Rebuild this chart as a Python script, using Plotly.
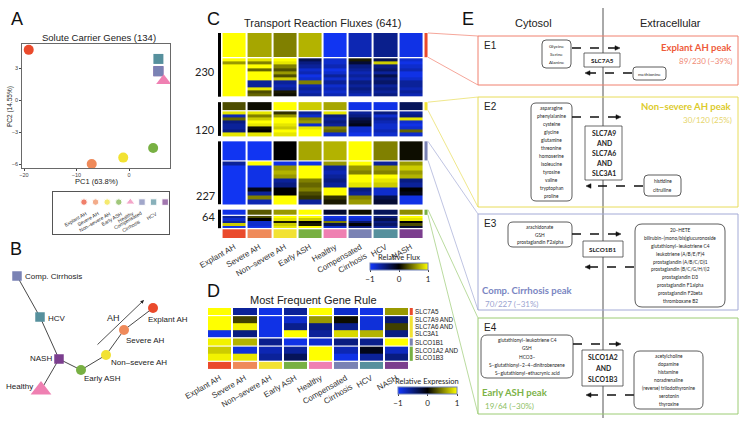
import numpy as np
import plotly.graph_objects as go

W, H = 744, 425
SANS = "Liberation Sans, Arial, sans-serif"
CAL = "Lato, Carlito, sans-serif"

# ---------------- data ----------------
groups = ["Explant AH", "Severe AH", "Non–severe AH", "Early ASH", "Healthy",
          "Compensated Cirrhosis", "HCV", "NASH"]
group_ticks = ["Explant AH", "Severe AH", "Non–severe AH", "Early ASH", "Healthy",
               "Compensated<br>Cirrhosis", "HCV", "NASH"]
group_colors = ["#ea4a2c", "#ef8a5a", "#f2e233", "#78b043", "#ef80b2",
                "#7a82b4", "#56909d", "#7b3e8e"]
group_symbols = ["circle", "circle", "circle", "circle", "triangle-up",
                 "square", "square", "square"]

# A: PCA of solute carrier genes
pca_pc1 = [-19.1, -7.1, -1.1, 4.6, 6.6, 5.6, 5.6, 5.6]
pca_pc2 = [4.7, -6.0, -5.4, -4.5, 1.8, 2.7, 3.85, 2.7]
pca_xticks = [-20, -10, 0]
pca_yticks = [3, 0, -3, -6]

# B: tree layout
tree_labels = ["Comp. Cirrhosis", "HCV", "NASH", "Healthy", "Early ASH",
               "Non–severe AH", "Severe AH", "Explant AH"]
tree_group = [5, 6, 7, 4, 3, 2, 1, 0]
tree_x = [17, 40, 59, 41, 81, 106, 124, 153]
tree_y = [276, 317, 359, 390, 370, 355, 330, 308]
tree_edges = [(0, 1), (1, 2), (2, 3), (2, 4), (4, 5), (5, 6), (6, 7)]
tree_label_dx = [7, 7, -6, -7, 2, 4, 1, -6]
tree_label_dy = [0, 1, -1, -4, 8, 7, 10, 11]

# C: transport reaction flux clusters
flux_cluster_sizes = [230, 120, 227, 64]
flux_peak_sizes = [89, 30, 70, 19]
flux_peak_profiles = [
    [1.0, 0.65, 0.5, 0.7, -0.95, -0.7, -0.55, -0.9],
    [0.3, 0.05, 1.0, 0.8, 0.65, -0.9, -0.9, -0.35],
    [-0.95, -0.95, 0.0, 0.65, 0.7, 1.0, 0.5, 0.05],
    [-0.9, 0.35, 0.6, 1.0, -0.2, 0.05, -0.35, 0.55],
]
flux_rest_230 = [
    [1.0, 0.9, 1.0, -0.3, -0.8, 0.1, -0.3, -0.8],
    [0.6, 0.5, 0.9, -0.5, -0.8, -0.2, 0.8, -0.9],
    [1.0, 1.0, 0.5, -0.6, -0.7, -0.5, -0.5, -0.8],
    [1.0, 0.4, 0.3, -0.8, -0.9, -0.6, -0.4, -0.7],
    [1.0, 1.0, 0.6, -0.7, -0.8, -0.7, -0.6, -0.9],
    [1.0, 1.0, 0.3, -0.9, -0.6, -0.6, -0.3, -0.9],
    [1.0, 1.0, 0.8, -0.8, -0.8, -0.7, -0.5, -0.8],
    [1.0, -0.6, -0.6, 0.5, -0.6, -0.5, -0.4, -0.6],
    [1.0, -0.6, -0.7, -0.7, -0.8, -0.6, -0.6, -0.6],
    [1.0, 0.9, -0.6, -0.6, -0.7, -0.5, -0.5, -0.7],
    [1.0, 0.3, 0.1, -0.7, -0.8, -0.6, -0.6, -0.6],
    [1.0, 0.4, 0.05, -0.6, -0.7, -0.7, -0.5, -0.7],
]
flux_rest_120 = [
    [0.9, 0.9, 0.2, -0.6, 0.9, -0.6, -0.5, -0.6],
    [-0.7, 0.5, 0.6, -0.8, -0.5, -0.5, -0.8, -0.5],
    [0.4, 0.8, 1.0, 0.5, -0.6, -0.3, -0.6, 0.9],
    [-0.5, 1.0, 1.0, 0.6, -0.5, -0.2, -0.7, -0.8],
    [-0.6, 0.9, 0.9, -0.8, -0.6, -0.1, -0.8, -0.9],
    [-0.6, 0.05, 0.8, 0.9, 0.5, -0.8, -0.8, -0.8],
    [-0.5, 0.0, 1.0, 1.0, 0.4, -0.8, -0.7, 0.4],
    [0.9, 0.9, 0.9, 1.0, -0.8, -0.9, -0.8, -0.8],
]
flux_rest_227 = [
    [-0.6, 1.0, -0.9, -0.9, 0.6, 1.0, -0.6, 0.6],
    [-0.95, -0.9, 0.6, 1.0, -0.6, 0.6, 0.6, 0.8],
    [-0.95, -0.9, 0.7, 1.0, -0.7, 0.5, 0.5, 0.6],
    [-0.95, -0.9, 0.6, 1.0, -0.6, 1.0, 1.0, 0.7],
    [-0.95, -0.9, -0.6, 0.5, -0.5, 1.0, 0.9, -0.5],
    [-0.95, -0.9, -0.5, 0.4, -0.6, 0.9, 0.8, -0.6],
    [-0.95, -0.1, 0.0, 0.5, 1.0, -0.5, -0.8, 0.0],
    [-0.95, -0.6, 0.0, 0.3, 1.0, -0.6, -0.8, -0.1],
    [-0.95, 0.5, 1.0, 0.2, 0.2, 0.5, -0.3, -0.9],
    [-0.95, -0.7, 1.0, -0.6, 0.1, 0.6, -0.2, -0.9],
]
flux_rest_64 = [
    [-0.6, 0.3, 1.0, 1.0, -0.9, -0.9, -0.5, 1.0],
    [-0.8, 0.0, 0.9, 0.8, -0.8, -0.8, -0.3, 0.9],
    [-0.6, -0.8, 0.1, 0.0, 0.5, -0.4, -0.5, 0.0],
    [0.8, -0.8, 0.8, 0.1, -0.3, 0.0, -0.4, 0.3],
    [-0.9, -0.9, 0.9, 1.0, -0.8, -0.5, -0.6, -0.2],
]
flux_rest = [flux_rest_230, flux_rest_120, flux_rest_227, flux_rest_64]
flux_cluster_colors = [group_colors[0], group_colors[2], group_colors[5], group_colors[3]]

# D: most frequent gene rule
gene_labels = ["SLC7A5", "SLC7A9 AND", "SLC7A6 AND", "SLC3A1", "SLCO1B1",
               "SLCO1A2 AND", "SLCO1B3"]
gene_expr = [
    [1.0, -0.6, -0.9, -0.6, 1.0, -0.8, -0.9, 0.6],
    [1.0, 0.25, -0.9, -0.8, 0.6, 0.05, -0.85, -0.45],
    [1.0, 0.95, -0.9, -0.55, -0.5, -0.55, -0.85, 0.25],
    [-0.9, -0.5, -0.9, 1.0, -0.6, 0.85, 0.7, -0.5],
    [0.95, 0.7, -0.55, -0.9, -0.8, -0.5, -0.55, 1.0],
    [0.8, -0.85, -0.7, -0.6, 1.0, -0.7, -0.1, -0.75],
    [0.95, 0.9, -0.6, -0.35, 1.0, -0.9, -0.6, -0.5],
]
gene_group_sizes = [1, 3, 1, 2]

flux_scale = [[0, "#1238ff"], [0.5, "#000000"], [1, "#ffff00"]]

# ---------------- helpers ----------------
def dom_x(p0, p1):
    return [p0 / W, p1 / W]

def dom_y(p0, p1):
    return [1 - p1 / H, 1 - p0 / H]

shapes, annotations = [], []
OV = dict(xref="x6", yref="y6")

def txt(x, y, s, size=8, color="#222", xa="center", ya="middle", fam=SANS, angle=0, ref=OV):
    annotations.append(dict(x=x, y=y, text=s, showarrow=False, xanchor=xa, yanchor=ya,
                            font=dict(size=size, color=color, family=fam), textangle=angle,
                            borderpad=0, **ref))

def rect(x0, y0, x1, y1, color, width=1, fill="rgba(0,0,0,0)", ref=OV):
    shapes.append(dict(type="rect", x0=x0, y0=y0, x1=x1, y1=y1, layer="above",
                       line=dict(color=color, width=width), fillcolor=fill, **ref))

def rrect(x0, y0, x1, y1, r=4, color="#333", width=0.8, fill="white"):
    p = (f"M{x0+r},{y0} L{x1-r},{y0} Q{x1},{y0} {x1},{y0+r} L{x1},{y1-r} "
         f"Q{x1},{y1} {x1-r},{y1} L{x0+r},{y1} Q{x0},{y1} {x0},{y1-r} "
         f"L{x0},{y0+r} Q{x0},{y0} {x0+r},{y0} Z")
    shapes.append(dict(type="path", path=p, layer="above", line=dict(color=color, width=width),
                       fillcolor=fill, **OV))

def seg(x0, y0, x1, y1, color, width=0.8, dash="solid"):
    shapes.append(dict(type="line", x0=x0, y0=y0, x1=x1, y1=y1, layer="above",
                       line=dict(color=color, width=width, dash=dash), **OV))

def darrow(x0, x1, y):
    s = 1 if x1 > x0 else -1
    seg(x0, y, x1 - s * 4, y, "#111", 1.4, "dash")
    p = f"M{x1},{y} L{x1 - s*5},{y - 2.3} L{x1 - s*5},{y + 2.3} Z"
    shapes.append(dict(type="path", path=p, layer="above", line=dict(color="#111", width=0.5),
                       fillcolor="#111", **OV))

def lines_in(cx, y0, y1, lines, size=5.3, color="#222", bold=False):
    n = len(lines)
    step = (y1 - y0) / n
    for i, l in enumerate(lines):
        s = f"<b>{l}</b>" if bold else l
        txt(cx, y0 + step * (i + 0.5), s, size, color, fam=CAL)

fig = go.Figure()

# ---------------- A: PCA ----------------
for i in [7, 5, 6, 4, 0, 1, 2, 3]:
    sz = 13 if group_symbols[i] == "triangle-up" else 10
    fig.add_trace(go.Scatter(x=[pca_pc1[i]], y=[pca_pc2[i]], mode="markers",
                             marker=dict(symbol=group_symbols[i], size=sz, color=group_colors[i],
                                         line=dict(width=0)),
                             xaxis="x", yaxis="y", showlegend=False, hoverinfo="skip"))

# A legend box
leg_x = list(range(8))
fig.add_trace(go.Scatter(x=leg_x, y=[0.76] * 8, mode="markers",
                         marker=dict(symbol=group_symbols,
                                     size=[8 if s == "triangle-up" else 6.5 for s in group_symbols],
                                     color=group_colors),
                         xaxis="x2", yaxis="y2", showlegend=False, hoverinfo="skip"))
for i, g in enumerate(group_ticks):
    txt(i + 0.45, 0.6, g, 5, "#333", xa="right", ya="top", angle=-30,
        ref=dict(xref="x2", yref="y2"))

# ---------------- B: tree ----------------
for a, b in tree_edges:
    fig.add_trace(go.Scatter(x=[tree_x[a], tree_x[b]], y=[tree_y[a], tree_y[b]], mode="lines",
                             line=dict(color="#333", width=0.9), xaxis="x3", yaxis="y3",
                             showlegend=False, hoverinfo="skip"))
for k in range(len(tree_x)):
    g = tree_group[k]
    sym = group_symbols[g]
    sz = 18 if sym == "triangle-up" else (9.5 if sym == "square" else 10)
    fig.add_trace(go.Scatter(x=[tree_x[k]], y=[tree_y[k]], mode="markers",
                             marker=dict(symbol=sym, size=sz, color=group_colors[g]),
                             xaxis="x3", yaxis="y3", showlegend=False, hoverinfo="skip"))
    xa = "right" if tree_label_dx[k] < 0 and k in (2, 3) else "left"
    txt(tree_x[k] + tree_label_dx[k], tree_y[k] + tree_label_dy[k], tree_labels[k], 8, "#222",
        xa=xa, ref=dict(xref="x3", yref="y3"))
annotations.append(dict(x=144, y=300, ax=96, ay=346, xref="x3", yref="y3", axref="x3", ayref="y3",
                        showarrow=True, arrowhead=2, arrowsize=0.9, arrowwidth=0.8,
                        arrowcolor="#222", text=""))
txt(113, 318, "AH", 9, "#222", ref=dict(xref="x3", yref="y3"))

# ---------------- C: flux heatmap ----------------
GAP_IN, GAP_CL, CB_GAP, CB_H = 4, 20, 4, 32
ypos = 0
cluster_spans = []
for c in range(4):
    start = ypos
    pk = flux_peak_sizes[c]
    fig.add_trace(go.Heatmap(z=[flux_peak_profiles[c]], x=list(range(8)), y=[ypos, ypos + pk],
                             colorscale=flux_scale, zmin=-1, zmax=1, xgap=2,
                             showscale=False, xaxis="x4", yaxis="y4", hoverinfo="skip"))
    peak_span = (ypos, ypos + pk)
    ypos += pk + GAP_IN
    rest = flux_rest[c]
    nrest = flux_cluster_sizes[c] - pk
    edges = list(np.linspace(ypos, ypos + nrest, len(rest) + 1))
    fig.add_trace(go.Heatmap(z=rest, x=list(range(8)), y=edges,
                             colorscale=flux_scale, zmin=-1, zmax=1, xgap=2,
                             showscale=(c == 0), xaxis="x4", yaxis="y4", hoverinfo="skip",
                             colorbar=dict(orientation="h", x=399 / W, xanchor="center",
                                           y=1 - 263 / H, yanchor="top", thickness=7,
                                           len=58, lenmode="pixels", xpad=0, ypad=0,
                                           tickvals=[-1, 0, 1], ticktext=["−1", "0", "1"],
                                           ticks="outside", ticklen=2,
                                           tickfont=dict(size=8, family=CAL, color="#222"),
                                           outlinewidth=1, outlinecolor="#6f80b8")))
    ypos += nrest
    cluster_spans.append((start, ypos, peak_span))
    ypos += GAP_CL if c < 3 else CB_GAP
# group colour row
disc = []
for k, col in enumerate(group_colors):
    disc += [[k / 8, col], [(k + 1) / 8, col]]
fig.add_trace(go.Heatmap(z=[list(range(8))], x=list(range(8)), y=[ypos, ypos + CB_H],
                         colorscale=disc, zmin=-0.5, zmax=7.5, xgap=2, showscale=False,
                         xaxis="x4", yaxis="y4", hoverinfo="skip"))
C_YMAX = ypos + CB_H
C_X0, C_X1 = -0.639, 7.718
CREF = dict(xref="x4", yref="y4")
for c, (s, e, (p0, p1)) in enumerate(cluster_spans):
    rect(-0.639, s, -0.52, e, "black", 0, "black", ref=CREF)
    rect(7.54, p0, 7.66, p1, flux_cluster_colors[c], 0, flux_cluster_colors[c], ref=CREF)

def c_py(y):
    return 33 + y * (238 - 33) / C_YMAX

# cluster count labels
for c, ypx in enumerate([71, 129, 195, 216]):
    txt(216, ypx, str(flux_cluster_sizes[c]), 11, "#222", xa="right", fam=CAL)

# ---------------- D: gene heatmap ----------------
GG = 0.15
yd = 0
row_i = 0
gene_group_colors = [group_colors[0], group_colors[2], group_colors[5], group_colors[3]]
DREF = dict(xref="x5", yref="y5")
for gi, n in enumerate(gene_group_sizes):
    zz = gene_expr[row_i:row_i + n]
    edges = list(np.linspace(yd, yd + n, n + 1))
    fig.add_trace(go.Heatmap(z=zz, x=list(range(8)), y=edges, colorscale=flux_scale,
                             zmin=-1, zmax=1, xgap=2, showscale=(gi == 0),
                             xaxis="x5", yaxis="y5", hoverinfo="skip",
                             colorbar=dict(orientation="h", x=427.5 / W, xanchor="center",
                                           y=1 - 387 / H, yanchor="top", thickness=7,
                                           len=59, lenmode="pixels", xpad=0, ypad=0,
                                           tickvals=[-1, 0, 1], ticktext=["−1", "0", "1"],
                                           ticks="outside", ticklen=2,
                                           tickfont=dict(size=8, family=CAL, color="#222"),
                                           outlinewidth=1, outlinecolor="#6f80b8")))
    rect(7.53, yd, 7.65, yd + n, gene_group_colors[gi], 0, gene_group_colors[gi], ref=DREF)
    for k in range(n):
        txt(7.685, yd + k + 0.5, gene_labels[row_i + k], 6.3, "#222", xa="left", ref=DREF)
    yd += n + GG
    row_i += n
fig.add_trace(go.Heatmap(z=[list(range(8))], x=list(range(8)), y=[yd, yd + 1.0],
                         colorscale=disc, zmin=-0.5, zmax=7.5, xgap=2, showscale=False,
                         xaxis="x5", yaxis="y5", hoverinfo="skip"))
D_YMAX = yd + 1.0

# ---------------- overlay: titles, panel letters, E ----------------
fig.add_trace(go.Scatter(x=[0], y=[0], mode="markers", marker=dict(opacity=0),
                         xaxis="x6", yaxis="y6", showlegend=False, hoverinfo="skip"))

for L, x, y in [("A", 17, 19), ("B", 16, 249), ("C", 213, 19), ("D", 213, 291), ("E", 468, 19)]:
    txt(x, y, L, 18, "#111")
txt(99, 37, "Solute Carrier Genes (134)", 9.5, "#222")
txt(96, 181, "PC1 (63.8%)", 7.5, "#222")
txt(10, 107, "PC2 (14.55%)", 6.5, "#222", angle=-90)
txt(322, 23, "Transport Reaction Fluxes (641)", 11, "#222")
txt(313, 300, "Most Frequent Gene Rule", 11, "#222")
txt(399, 257, "Relative Flux", 7.5, "#222", fam=CAL)
txt(427, 381, "Relative Expression", 7.5, "#222", fam=CAL)

# connectors from C peak bars to E boxes
E_boxes = [(36, 85), (97, 207), (214, 310), (318, 414)]
E_line = ["#f0806e", "#e8dc5a", "#a3aad6", "#9ccc75"]
for c, (s, e, (p0, p1)) in enumerate(cluster_spans):
    seg(428, c_py(p0), 478, E_boxes[c][0], E_line[c], 0.7)
    seg(428, c_py(p1), 478, E_boxes[c][1], E_line[c], 0.7)

# E headers and divider
txt(533, 23, "Cytosol", 11, "#222")
txt(670, 23, "Extracellular", 11, "#222")
seg(603, 8, 603, 418, "#555", 1)
for k, (y0, y1) in enumerate(E_boxes):
    rect(478, y0, 738, y1, E_line[k], 1)
for k, (y0, y1) in enumerate(E_boxes):
    txt(483, y0 + 9, f"E{k+1}", 10, "#222", xa="left")

# E1
txt(733, 47, "<b>Explant AH peak</b>", 9.5, "#ee5a3a", xa="right", fam=CAL)
txt(733, 61, "89/230 (~39%)", 8, "#f08a75", xa="right", fam=CAL)
rrect(542, 40, 571, 68, 4)
lines_in(556.5, 42, 66, ["Glycine", "Serine", "Alanine"], 4.6)
darrow(572, 620, 48)
rect(584, 53, 620, 67, "#444", 0.8, "white")
lines_in(602, 53, 67, ["SLC7A5"], 6.3, bold=True)
darrow(632, 585, 73)
rrect(633, 67, 666, 80, 3)
lines_in(649.5, 67, 80, ["methionine"], 4.6)

# E2
txt(733, 106, "<b>Non–severe AH peak</b>", 9.5, "#dccb2b", xa="right", fam=CAL)
txt(733, 120, "30/120 (25%)", 8, "#e6d56a", xa="right", fam=CAL)
rrect(531, 103, 572, 201, 5)
lines_in(551.5, 104, 200, ["asparagine", "phenylalanine", "cysteine", "glycine", "glutamine",
                            "threonine", "homoserine", "isoleucine", "tyrosine", "valine",
                            "tryptophan", "proline"], 4.8)
darrow(572, 621, 117)
rect(585, 126, 622, 180, "#444", 0.8, "white")
lines_in(603.5, 128, 178, ["SLC7A9", "AND", "SLC7A6", "AND", "SLC3A1"], 6.8, bold=True)
darrow(643, 586, 186)
rrect(644, 175, 681, 196, 4)
lines_in(662.5, 177, 194, ["histidine", "citrulline"], 4.8)

# E3
txt(481, 290, "<b>Comp. Cirrhosis peak</b>", 9.5, "#7a86c2", xa="left", fam=CAL)
txt(484, 304, "70/227 (~31%)", 8, "#9aa3d0", xa="left", fam=CAL)
rrect(508, 222, 572, 247, 5)
lines_in(540, 223, 246, ["arachidonate", "GSH", "prostaglandin F2alpha"], 4.8)
darrow(572, 621, 234)
rect(583, 241, 623, 257, "#444", 0.8, "white")
lines_in(603, 241, 257, ["SLCO1B1"], 6.3, bold=True)
darrow(634, 585, 267)
rrect(635, 224, 725, 307, 7)
lines_in(680, 226, 305, ["20–HETE", "bilirubin–(mono/bis)glucuronoside",
                         "glutathionyl–leukotriene C4", "leukotriene (A/B/E/F)4",
                         "prostaglandin (A/B/C/D)1", "prostaglandin (B/C/G/H/I)2",
                         "prostaglandin D3", "prostaglandin F1alpha",
                         "prostaglandin F2beta", "thromboxane B2"], 4.8)

# E4
txt(481, 392, "<b>Early ASH peak</b>", 9.5, "#7bb247", xa="left", fam=CAL)
txt(484, 406, "19/64 (~30%)", 8, "#8cc05f", xa="left", fam=CAL)
rrect(481, 335, 573, 378, 6)
lines_in(527, 336, 377, ["glutathionyl–leukotriene C4", "GSH", "HCO3–",
                         "S–glutathionyl–2–4–dinitrobenzene",
                         "S–glutathionyl–ethacrynic acid"], 4.8)
darrow(573, 621, 344)
rect(582, 350, 623, 386, "#444", 0.8, "white")
lines_in(602.5, 352, 384, ["SLCO1A2", "AND", "SLCO1B3"], 6.8, bold=True)
darrow(634, 586, 395)
rrect(634, 351, 703, 409, 6)
lines_in(668.5, 352, 408, ["acetylcholine", "dopamine", "histamine", "noradrenaline",
                           "(reverse) triiodothyronine", "serotonin", "thyroxine"], 4.8)

# ---------------- layout ----------------
hid = dict(visible=False, showgrid=False, zeroline=False, fixedrange=True)
fig.update_layout(
    width=W, height=H, margin=dict(l=0, r=0, t=0, b=0, autoexpand=False),
    paper_bgcolor="white", plot_bgcolor="rgba(0,0,0,0)", showlegend=False,
    font=dict(family=SANS, color="#222"),
    xaxis=dict(domain=dom_x(22, 170), range=[-20.38, 7.81], tickvals=pca_xticks,
               ticks="outside", ticklen=2, tickfont=dict(size=5.5, color="#444"),
               showline=True, mirror=True, linecolor="#444", linewidth=0.8,
               showgrid=False, zeroline=False, anchor="y"),
    yaxis=dict(domain=dom_y(44, 168), range=[-6.375, 5.25], tickvals=pca_yticks,
               ticks="outside", ticklen=2, tickfont=dict(size=5.5, color="#444"),
               showline=True, mirror=True, linecolor="#444", linewidth=0.8,
               showgrid=False, zeroline=False, anchor="x"),
    xaxis2=dict(domain=dom_x(53, 169), range=[-2.67, 7.33], showline=True, mirror=True,
                linecolor="#555", linewidth=1, showticklabels=False, ticks="",
                showgrid=False, zeroline=False, anchor="y2"),
    yaxis2=dict(domain=dom_y(192, 234), range=[0, 1], showline=True, mirror=True,
                linecolor="#555", linewidth=1, showticklabels=False, ticks="",
                showgrid=False, zeroline=False, anchor="x2"),
    xaxis3=dict(domain=dom_x(0, 200), range=[0, 200], anchor="y3", **hid),
    yaxis3=dict(domain=dom_y(255, 425), range=[425, 255], anchor="x3", **hid),
    xaxis4=dict(domain=dom_x(218, 429), range=[C_X0, C_X1], anchor="y4",
                tickvals=list(range(8)), ticktext=group_ticks, tickangle=-30,
                tickfont=dict(size=8, color="#333"), ticks="", showgrid=False,
                zeroline=False, showline=False, ticklabelstandoff=2),
    yaxis4=dict(domain=dom_y(33, 238), range=[C_YMAX, 0], anchor="x4",
                showticklabels=False, ticks="", showgrid=False, zeroline=False),
    xaxis5=dict(domain=dom_x(207, 414), range=[-0.5, 7.698], anchor="y5",
                tickvals=list(range(8)), ticktext=group_ticks, tickangle=-30,
                tickfont=dict(size=8, color="#333"), ticks="", showgrid=False,
                zeroline=False, showline=False, ticklabelstandoff=2),
    yaxis5=dict(domain=dom_y(308, 369), range=[D_YMAX, 0], anchor="x5",
                showticklabels=False, ticks="", showgrid=False, zeroline=False),
    xaxis6=dict(domain=[0, 1], range=[0, W], anchor="y6", **hid),
    yaxis6=dict(domain=[0, 1], range=[H, 0], anchor="x6", **hid),
    shapes=shapes, annotations=annotations,
)
fig.write_html("out.html", config={"displayModeBar": False, "staticPlot": True},
               post_script="document.body.style.margin='0';document.body.style.padding='0';"
                           "document.documentElement.style.overflow='hidden';")
